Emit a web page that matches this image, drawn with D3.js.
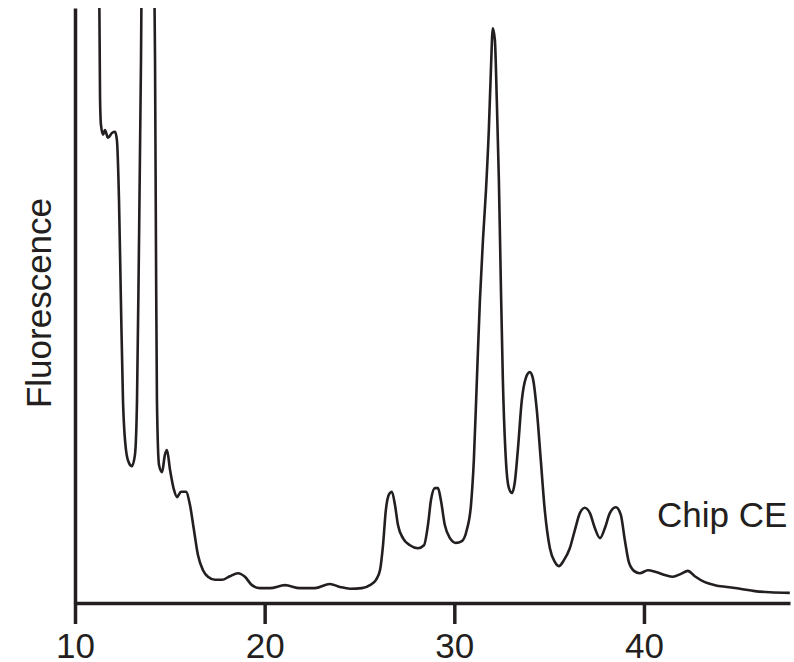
<!DOCTYPE html>
<html>
<head>
<meta charset="utf-8">
<script src="https://cdn.jsdelivr.net/npm/d3@7"></script>
<style>
  html, body { margin: 0; padding: 0; background: #fff; }
  svg { display: block; }
  text { font-family: "Liberation Sans", Arial, Helvetica, sans-serif; fill: #231f20; }
</style>
</head>
<body>
<svg id="chart" width="794" height="662"></svg>
<script>
// Migration time (x) and fluorescence (arbitrary units, y); values > 100 run off the top
const time = [
  11.25, 11.32, 11.37, 11.48, 11.58, 11.74, 11.95, 12.11, 12.21, 12.32, 12.42, 12.53, 12.69, 12.85, 13.00,
  13.16, 13.27, 13.37, 13.48, 13.58, 13.85, 14.11, 14.22, 14.27, 14.32, 14.43, 14.59, 14.74, 14.85, 15.01,
  15.22, 15.38, 15.59, 15.85, 16.06, 16.27, 16.48, 16.75, 17.01, 17.38, 17.75, 18.17, 18.59, 18.96, 19.33,
  19.75, 20.28, 21.07, 21.86, 22.65, 23.44, 23.97, 24.50, 25.13, 25.55, 25.87, 26.08, 26.24, 26.39, 26.55,
  26.71, 26.87, 27.03, 27.29, 27.66, 28.08, 28.40, 28.61, 28.77, 28.98, 29.14, 29.29, 29.50, 29.77, 30.08,
  30.40, 30.66, 30.88, 31.03, 31.19, 31.35, 31.51, 31.67, 31.82, 31.93, 32.03, 32.14, 32.24, 32.35, 32.45,
  32.56, 32.72, 32.88, 33.04, 33.19, 33.35, 33.56, 33.77, 33.98, 34.14, 34.35, 34.56, 34.77, 35.04, 35.30,
  35.51, 35.78, 36.09, 36.36, 36.62, 36.88, 37.15, 37.41, 37.68, 37.94, 38.20, 38.52, 38.78, 38.99, 39.20,
  39.47, 39.78, 40.21, 40.63, 41.10, 41.52, 41.95, 42.31, 42.68, 43.21, 43.74, 44.37, 45.06, 45.85, 46.64,
  47.69
];
const fluorescence = [
  115, 85.0, 80.3, 78.7, 79.5, 78.2, 79.0, 79.2, 77.8, 67.7, 50.9, 34.1, 25.7, 23.5, 23.0,
  24.9, 34.1, 59.3, 91.3, 130, 150, 130, 91.3, 59.3, 34.1, 23.2, 22.0, 24.9, 25.7, 22.4,
  19.0, 17.8, 18.7, 18.7, 16.5, 12.3, 8.1, 5.5, 4.4, 3.9, 3.9, 4.5, 5.0, 4.4, 3.0,
  2.5, 2.5, 3.0, 2.5, 2.5, 3.2, 2.7, 2.4, 2.5, 3.0, 3.9, 5.5, 9.7, 15.6, 18.2,
  18.7, 16.5, 13.1, 10.9, 9.7, 9.2, 9.7, 13.1, 17.3, 19.3, 19.3, 17.3, 13.1, 10.9, 10.1,
  10.4, 12.3, 16.5, 24.0, 37.5, 50.9, 61.0, 69.4, 79.5, 89.6, 96.6, 94.6, 84.5, 71.1, 54.3,
  37.5, 24.0, 19.3, 18.5, 20.3, 25.7, 34.1, 37.8, 38.8, 37.8, 32.4, 24.0, 15.6, 9.2, 6.9,
  6.2, 7.2, 9.2, 12.3, 15.1, 16.0, 15.1, 12.6, 10.9, 12.6, 15.1, 16.1, 14.8, 10.6, 6.9,
  5.4, 5.0, 5.5, 5.2, 4.7, 4.4, 4.9, 5.4, 4.5, 3.5, 3.0, 2.7, 2.4, 2.0, 1.8,
  1.7
];
const xTicks = [10, 20, 30, 40];
const xDomain = [10, 47.7];
const yDomain = [0, 100];
const yLabel = "Fluorescence";
const traceLabel = "Chip CE";

(function () {
  const ink = "#231f20";
  const svg = d3.select("#chart");
  const mLeft = 75, mRight = 790, mTop = 8, mBottom = 603;

  const x = d3.scaleLinear().domain(xDomain).range([mLeft, mRight]);
  const y = d3.scaleLinear().domain(yDomain).range([mBottom, mTop]);

  // clip so off-scale peaks stop at the top of the y axis
  svg.append("defs").append("clipPath").attr("id", "plotclip")
    .append("rect").attr("x", mLeft).attr("y", mTop).attr("width", mRight - mLeft + 4).attr("height", mBottom - mTop);

  const data = time.map((t, i) => ({ t, v: fluorescence[i] }));
  const line = d3.line().x(d => x(d.t)).y(d => y(d.v)).curve(d3.curveMonotoneX);

  svg.append("path")
    .datum(data)
    .attr("clip-path", "url(#plotclip)")
    .attr("fill", "none")
    .attr("stroke", ink)
    .attr("stroke-width", 2.6)
    .attr("stroke-linejoin", "round")
    .attr("d", line);

  // x axis
  const xAxis = svg.append("g")
    .attr("transform", `translate(0,${mBottom})`)
    .call(d3.axisBottom(x).tickValues(xTicks).tickSizeOuter(0).tickSizeInner(21).tickPadding(9).tickFormat(d3.format("d")));
  xAxis.select(".domain").attr("stroke", ink).attr("stroke-width", 3.5);
  xAxis.selectAll(".tick line").attr("stroke", ink).attr("stroke-width", 3.5);
  xAxis.selectAll(".tick text")
    .attr("fill", ink)
    .style("font-size", "35px")
    .style("font-family", "'Liberation Sans', Arial, sans-serif");

  // y axis (line only)
  svg.append("g")
    .attr("transform", `translate(${mLeft},0)`)
    .call(d3.axisLeft(y).tickValues([]).tickSizeOuter(0))
    .select(".domain").attr("stroke", ink).attr("stroke-width", 3.5);

  // y label
  svg.append("text")
    .attr("transform", "translate(51,303) rotate(-90)")
    .attr("text-anchor", "middle")
    .style("font-size", "35px")
    .text(yLabel);

  // trace label
  svg.append("text")
    .attr("x", 657)
    .attr("y", 527)
    .style("font-size", "35px")
    .text(traceLabel);
})();
</script>
</body>
</html>
